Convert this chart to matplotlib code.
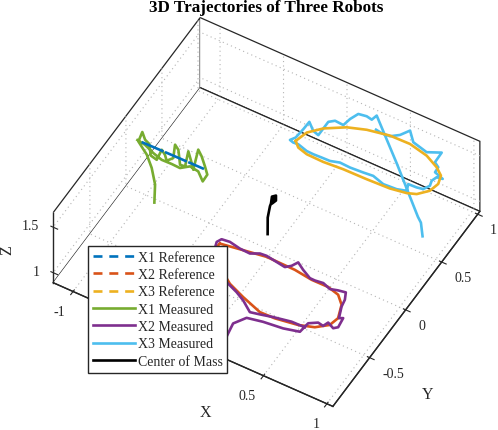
import matplotlib
matplotlib.use("Agg")
import matplotlib.pyplot as plt
from matplotlib.lines import Line2D
from mpl_toolkits.mplot3d import proj3d

plt.rcParams["font.family"] = ["Liberation Serif", "DejaVu Serif"]
plt.rcParams["axes.unicode_minus"] = False
plt.rcParams["grid.color"] = "#b4b4b4"
plt.rcParams["grid.linestyle"] = (0, (1, 3))
plt.rcParams["grid.linewidth"] = 0.8

DARK = "#262626"

x_ticks = [-1, -0.5, 0, 0.5, 1]
# -0.5 and 0 sit under the legend in the picture
x_tick_labels = ["-1", "", "", "0.5", "1"]
y_ticks = [-0.5, 0, 0.5, 1]
y_tick_labels = ["-0.5", "0", "0.5", "1"]
z_ticks = [1, 1.5]
z_tick_labels = ["1", "1.5"]

# Reference paths, all flown at z = 1.5
x1_ref_x = [-1.013, -0.77, -0.525]
x1_ref_y = [-0.035, -0.032, -0.030]

x2_ref_x = [-0.098, 0.069, 0.237, 0.461, 0.605, 0.735, 0.828, 0.893, 0.932, 0.913, 0.835,
            0.727, 0.559, 0.443, 0.277, 0.140, -0.034, -0.111, -0.098]
x2_ref_y = [-0.560, -0.531, -0.502, -0.506, -0.526, -0.525, -0.551, -0.618, -0.735, -0.817, -0.887,
            -0.927, -0.956, -0.959, -0.899, -0.841, -0.715, -0.634, -0.560]

x3_ref_x = [-0.108, -0.080, 0.000, 0.133, 0.262, 0.426, 0.581, 0.732, 0.842, 0.905, 0.926,
            0.907, 0.844, 0.780, 0.661, 0.482, 0.299, 0.149, 0.017, -0.063, -0.108]
x3_ref_y = [0.508, 0.612, 0.702, 0.792, 0.842, 0.877, 0.881, 0.847, 0.791, 0.740, 0.665,
            0.583, 0.511, 0.484, 0.462, 0.454, 0.451, 0.439, 0.442, 0.465, 0.508]

# Measured paths: take-off first, then the plateau
x1_meas_x = [-0.871, -0.887, -0.920, -0.959, -1.035, -1.054, -1.003, -0.959, -0.900, -0.845, -0.860,
             -0.819, -0.782, -0.755, -0.804, -0.762, -0.685, -0.648, -0.696, -0.624, -0.585, -0.645,
             -0.595, -0.531, -0.480, -0.477, -0.548, -0.619, -0.671, -0.738, -0.816, -0.895, -0.981, -1.047]
x1_meas_y = [-0.109, -0.071, -0.060, -0.059, -0.042, 0.046, -0.005, -0.024, -0.109, -0.122, -0.026,
             -0.054, -0.095, -0.051, 0.060, 0.032, -0.080, -0.076, 0.054, -0.026, -0.073, 0.102,
             0.061, -0.006, -0.063, -0.132, -0.069, -0.058, -0.106, -0.103, -0.105, -0.081, -0.045, -0.034]
x1_takeoff_z = [1.0, 1.15, 1.3, 1.42]

x2_meas_x = [0.168, 0.187, 0.269, 0.315, 0.390, 0.505, 0.653, 0.767, 0.778, 0.834, 0.878, 0.893, 0.948,
             0.973, 0.962, 0.937, 0.901, 0.890, 0.863, 0.809, 0.754, 0.688, 0.627, 0.587, 0.510, 0.448,
             0.424, 0.390, 0.232, 0.182, 0.123, 0.042, -0.047, -0.108, -0.125, -0.089, 0.008, 0.112,
             0.216, 0.292, 0.384, 0.453, 0.543, 0.673, 0.776]
x2_meas_y = [-1.058, -1.022, -1.092, -1.105, -1.050, -1.024, -1.006, -0.974, -0.879, -0.839, -0.848, -0.804, -0.831,
             -0.806, -0.717, -0.732, -0.632, -0.567, -0.506, -0.517, -0.535, -0.511, -0.520, -0.519, -0.477, -0.436,
             -0.486, -0.519, -0.494, -0.499, -0.534, -0.530, -0.512, -0.520, -0.558, -0.674, -0.774, -0.839,
             -0.883, -0.925, -0.994, -0.977, -0.952, -0.924, -0.922]
x2_takeoff_z = [1.0, 1.05, 1.3, 1.45]

x3_meas_x = [0.864, 0.834, 0.823, 0.552, 0.258, 0.247, 0.202, 0.142, 0.116, 0.103, 0.035, 0.000, 0.000, 0.000,
             -0.049, -0.112, -0.115, -0.123, -0.146, -0.115, -0.078, 0.002, 0.056, 0.120, 0.184, 0.250, 0.331,
             0.432, 0.506, 0.602, 0.704, 0.770, 0.750, 0.814, 0.860, 0.885, 0.873, 0.887, 0.930, 0.855, 0.852,
             0.810, 0.807, 0.716, 0.655, 0.593, 0.522, 0.482, 0.429, 0.366, 0.317]
x3_meas_y = [0.557, 0.587, 0.565, 0.751, 0.988, 0.939, 0.948, 0.937, 0.869, 0.798, 0.803, 0.771, 0.702, 0.632,
             0.648, 0.705, 0.627, 0.535, 0.496, 0.487, 0.491, 0.467, 0.465, 0.468, 0.470, 0.492, 0.488,
             0.495, 0.503, 0.473, 0.480, 0.502, 0.560, 0.563, 0.573, 0.622, 0.668, 0.712, 0.720, 0.746, 0.796,
             0.824, 0.923, 0.874, 0.890, 0.906, 0.986, 0.917, 0.872, 0.867, 0.875]
x3_takeoff_z = [1.0, 1.1, 1.18, 1.4]

com_x = [-0.041, -0.033, -0.018, 0.025, 0.000, 0.019, 0.041, 0.031, 0.012, 0.020]
com_y = [0.001, -0.012, -0.007, -0.069, -0.011, 0.011, -0.028, -0.066, -0.004, -0.030]
com_z = [1.05, 1.25, 1.38, 1.5, 1.5, 1.5, 1.5, 1.5, 1.5, 1.5]

x_lim = (-1.157, 1.047)
y_lim = (-1.01, 1.03)
z_lim = (0.89, 1.66)


def with_plateau(takeoff, xs):
    return takeoff + [1.5] * (len(xs) - len(takeoff))


# mplot3d resets the transform of its tick labels, so they are placed by hand next to the ticks
def tick_text(text, x, y, z, dx, dy, ha):
    if not text:
        return
    px, py, _ = proj3d.proj_transform(x, y, z, ax.get_proj())
    ax.annotate(text, (px, py), xytext=(dx, dy), textcoords="offset pixels", ha=ha, va="center",
                fontsize=10, color=DARK, annotation_clip=False)


fig = plt.figure(figsize=(4.98, 4.31), dpi=100)
ax = fig.add_subplot(projection="3d", computed_zorder=False, proj_type="ortho")
ax.set_position([42.1 / 498, -6.4 / 431, 437 / 498, 437 / 431])
ax.view_init(elev=50, azim=-60)
ax.set_box_aspect((323, 294, 109))

lw = 1.9
ax.plot(x1_meas_x, x1_meas_y, with_plateau(x1_takeoff_z, x1_meas_x), color="#77AC30", lw=lw)
ax.plot(x1_ref_x, x1_ref_y, with_plateau([], x1_ref_x), color="#0072BD", lw=lw, ls=(0, (9, 0.6)))
ax.plot(x2_ref_x, x2_ref_y, with_plateau([], x2_ref_x), color="#D95319", lw=lw)
ax.plot(x2_meas_x, x2_meas_y, with_plateau(x2_takeoff_z, x2_meas_x), color="#7E2F8E", lw=lw)
ax.plot(x3_meas_x, x3_meas_y, with_plateau(x3_takeoff_z, x3_meas_x), color="#4DBEEE", lw=lw)
ax.plot(x3_ref_x, x3_ref_y, with_plateau([], x3_ref_x), color="#EDB120", lw=lw)
ax.plot(com_x, com_y, com_z, color="black", lw=lw)

ax.set_xlim(*x_lim, view_margin=0)
ax.set_ylim(*y_lim, view_margin=0)
ax.set_zlim(*z_lim, view_margin=0)
ax.set_xticks(x_ticks, [""] * len(x_ticks))
ax.set_yticks(y_ticks, [""] * len(y_ticks))
ax.set_zticks(z_ticks, [""] * len(z_ticks))
ax.zaxis.set_ticks_position("lower")
ax.zaxis._get_tickdir = lambda pos: 0
ax.tick_params(colors=DARK)

for axis in (ax.xaxis, ax.yaxis, ax.zaxis):
    axis.pane.set_facecolor("white")
    axis.pane.set_edgecolor(DARK)
    axis.pane.set_alpha(1)
    axis.pane.set_linewidth(0.9)
    axis.line.set_color(DARK)
    axis.line.set_linewidth(1.0)
    axis._axinfo["tick"]["linewidth"] = {True: 0.8, False: 0.8}
    axis._axinfo["tick"]["color"] = DARK

for tick, text in zip(x_ticks, x_tick_labels):
    tick_text(text, tick, y_lim[0], z_lim[0], -7.5, -20, "right")
for tick, text in zip(y_ticks, y_tick_labels):
    tick_text(text, x_lim[1], tick, z_lim[0], 12.5, -15.5, "left")
for tick, text in zip(z_ticks, z_tick_labels):
    tick_text(text, x_lim[0], y_lim[0], tick, -13.7, 1.5, "right")

fig.text(205 / 498, 1 - 413 / 431, "X", fontsize=11.5, color=DARK, ha="center", va="center")
fig.text(428 / 498, 1 - 395 / 431, "Y", fontsize=11.5, color=DARK, ha="center", va="center")
fig.text(7 / 498, 1 - 250 / 431, "Z", fontsize=11.5, color=DARK, ha="center", va="center", rotation=90)

fig.text(266 / 498, 1 - 12 / 431, "3D Trajectories of Three Robots", ha="center", va="baseline",
         fontsize=12.3, fontweight="bold", color="black")

handle_dash = (0, (3.4, 2.6))
handles = [
    Line2D([], [], color="#0072BD", lw=lw, ls=handle_dash, label="X1 Reference"),
    Line2D([], [], color="#D95319", lw=lw, ls=handle_dash, label="X2 Reference"),
    Line2D([], [], color="#EDB120", lw=lw, ls=handle_dash, label="X3 Reference"),
    Line2D([], [], color="#77AC30", lw=lw, label="X1 Measured"),
    Line2D([], [], color="#7E2F8E", lw=lw, label="X2 Measured"),
    Line2D([], [], color="#4DBEEE", lw=lw, label="X3 Measured"),
    Line2D([], [], color="black", lw=lw, label="Center of Mass"),
]
leg = ax.legend(handles=handles, loc="upper left", bbox_to_anchor=(88 / 498, 1 - 247 / 431),
                bbox_transform=fig.transFigure, borderaxespad=0, fancybox=False, framealpha=1,
                edgecolor=DARK, fontsize=10, handlelength=3.0, handletextpad=0.22,
                borderpad=0.35, labelspacing=0.31, labelcolor=DARK)
leg.get_frame().set_linewidth(1.0)

fig.savefig("out.png", dpi=100)
